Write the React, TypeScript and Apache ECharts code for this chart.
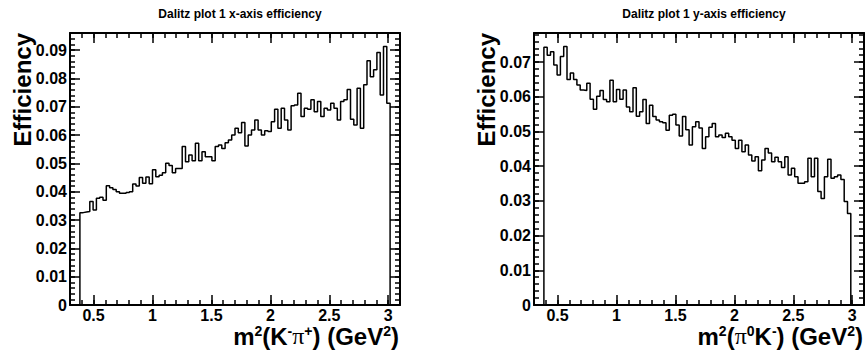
import React, { useEffect, useRef } from "react";
import * as echarts from "echarts";

// Histogram binning: 100 bins over [0.3, 3.1]; non-empty bins listed below
const BIN_LO = 0.3;
const BIN_W = 0.028;
const LEFT_FIRST_BIN = 3;
const RIGHT_FIRST_BIN = 3;

// Dalitz plot 1 x-axis efficiency, m^2(K- pi+)
const xAxisEff = [
  0.0326, 0.0328, 0.0330, 0.0365, 0.0335, 0.0377, 0.0380, 0.0370, 0.0421, 0.0414,
  0.0408, 0.0400, 0.0394, 0.0394, 0.0397, 0.0400, 0.0427, 0.0420, 0.0450, 0.0430,
  0.0452, 0.0428, 0.0477, 0.0453, 0.0458, 0.0467, 0.0500, 0.0492, 0.0467, 0.0482,
  0.0482, 0.0559, 0.0506, 0.0529, 0.0509, 0.0571, 0.0509, 0.0541, 0.0523, 0.0523,
  0.0509, 0.0559, 0.0565, 0.0552, 0.0573, 0.0582, 0.0600, 0.0624, 0.0608, 0.0644,
  0.0561, 0.0600, 0.0618, 0.0653, 0.0618, 0.0600, 0.0615, 0.0612, 0.0647, 0.0691,
  0.0624, 0.0694, 0.0653, 0.0618, 0.0703, 0.0706, 0.0747, 0.0665, 0.0694, 0.0691,
  0.0724, 0.0682, 0.0718, 0.0665, 0.0694, 0.0688, 0.0712, 0.0694, 0.0653, 0.0718,
  0.0724, 0.0761, 0.0656, 0.0635, 0.0765, 0.0624, 0.0777, 0.0862, 0.0806, 0.0830,
  0.0891, 0.0741, 0.0912, 0.0712,
];

// Dalitz plot 1 y-axis efficiency, m^2(pi0 K-)
const yAxisEff = [
  0.0743, 0.0720, 0.0730, 0.0692, 0.0663, 0.0716, 0.0745, 0.0650, 0.0669, 0.0650,
  0.0634, 0.0620, 0.0618, 0.0639, 0.0593, 0.0564, 0.0602, 0.0618, 0.0592, 0.0586,
  0.0648, 0.0586, 0.0621, 0.0593, 0.0620, 0.0571, 0.0557, 0.0626, 0.0544, 0.0557,
  0.0592, 0.0523, 0.0576, 0.0543, 0.0533, 0.0528, 0.0525, 0.0504, 0.0547, 0.0550,
  0.0519, 0.0487, 0.0543, 0.0505, 0.0461, 0.0514, 0.0528, 0.0510, 0.0451, 0.0485,
  0.0512, 0.0523, 0.0485, 0.0490, 0.0483, 0.0495, 0.0485, 0.0475, 0.0451, 0.0475,
  0.0442, 0.0461, 0.0432, 0.0415, 0.0427, 0.0387, 0.0418, 0.0451, 0.0438, 0.0413,
  0.0426, 0.0413, 0.0396, 0.0427, 0.0375, 0.0394, 0.0370, 0.0351, 0.0351, 0.0355,
  0.0423, 0.0370, 0.0423, 0.0327, 0.0307, 0.0370, 0.0420, 0.0365, 0.0370, 0.0375,
  0.0362, 0.0298, 0.0264,
];

const X_MIN = 0.3;
const X_MAX = 3.1;
const X_MAJOR = [0.5, 1, 1.5, 2, 2.5, 3];
const LEFT_Y_MAX = 0.096;
const RIGHT_Y_MAX = 0.0784;
const LEFT_Y_MAJOR = [0, 0.01, 0.02, 0.03, 0.04, 0.05, 0.06, 0.07, 0.08, 0.09];
const RIGHT_Y_MAJOR = [0, 0.01, 0.02, 0.03, 0.04, 0.05, 0.06, 0.07];

const TITLES = ["Dalitz plot 1 x-axis efficiency", "Dalitz plot 1 y-axis efficiency"];
const Y_TITLE = "Efficiency";
const X_TITLES = [
  "{a|m}{s|2}{a|(K}{s|-}{p|π}{s|+}{a|) (GeV}{s|2}{a|)}",
  "{a|m}{s|2}{a|(}{p|π}{s|0}{a|K}{s|-}{a|) (GeV}{s|2}{a|)}",
];

const FONT = "Liberation Sans";

function range(lo: number, hi: number, step: number) {
  const out: number[] = [];
  const n = Math.round((hi - lo) / step);
  for (let i = 0; i <= n; i++) out.push(Math.round((lo + i * step) * 100000) / 100000);
  return out.filter((v) => v <= hi + 1e-9);
}

function stepPoints(vals: number[], firstBin: number) {
  const pts: number[][] = [];
  const start = BIN_LO + firstBin * BIN_W;
  pts.push([start, 0]);
  vals.forEach((v, i) => {
    const a = BIN_LO + (firstBin + i) * BIN_W;
    pts.push([a, v]);
    pts.push([a + BIN_W, v]);
  });
  pts.push([BIN_LO + (firstBin + vals.length) * BIN_W, 0]);
  return pts;
}

const labelStyle = {
  fontFamily: FONT,
  fontWeight: "bold",
  fontSize: 16,
  color: "#000",
};

function makeX(g: number) {
  const base = {
    type: "value",
    gridIndex: g,
    min: X_MIN,
    max: X_MAX,
    splitLine: { show: false },
    axisLine: { show: false, onZero: false },
    axisLabel: { show: false },
    axisTick: { show: false },
  };
  const minor = range(X_MIN, X_MAX, 0.1);
  const major = (pos: string, labels: boolean) => ({
    ...base,
    position: pos,
    axisLine: { show: true, onZero: false, lineStyle: { color: "#000", width: 2 } },
    axisTick: {
      show: true,
      inside: true,
      length: 10,
      customValues: X_MAJOR,
      lineStyle: { color: "#000", width: 1.5 },
    },
    axisLabel: labels
      ? {
          show: true,
          customValues: X_MAJOR,
          margin: 2,
          formatter: (v: number) => String(v),
          ...labelStyle,
        }
      : { show: false },
  });
  const min = (pos: string) => ({
    ...base,
    position: pos,
    axisTick: {
      show: true,
      inside: true,
      length: 5,
      customValues: minor,
      lineStyle: { color: "#000", width: 1.5 },
    },
  });
  return [major("bottom", true), min("bottom"), major("top", false), min("top")];
}

function makeY(g: number, ymax: number, majorVals: number[]) {
  const base = {
    type: "value",
    gridIndex: g,
    min: 0,
    max: ymax,
    splitLine: { show: false },
    axisLine: { show: false, onZero: false },
    axisLabel: { show: false },
    axisTick: { show: false },
  };
  const minor = range(0, ymax, 0.002);
  const major = (pos: string, labels: boolean) => ({
    ...base,
    position: pos,
    axisLine: { show: true, onZero: false, lineStyle: { color: "#000", width: 2 } },
    axisTick: {
      show: true,
      inside: true,
      length: 10,
      customValues: majorVals,
      lineStyle: { color: "#000", width: 1.5 },
    },
    axisLabel: labels
      ? {
          show: true,
          customValues: majorVals,
          margin: 3,
          formatter: (v: number) => (v === 0 ? "0" : v.toFixed(2)),
          ...labelStyle,
        }
      : { show: false },
  });
  const min = (pos: string) => ({
    ...base,
    position: pos,
    axisTick: {
      show: true,
      inside: true,
      length: 5,
      customValues: minor,
      lineStyle: { color: "#000", width: 1.5 },
    },
  });
  return [major("left", true), min("left"), major("right", false), min("right")];
}

const rich = {
  a: { fontFamily: FONT, fontWeight: "bold", fontSize: 24, fill: "#000", verticalAlign: "bottom" },
  p: { fontFamily: "Liberation Serif", fontWeight: "normal", fontSize: 24, fill: "#000", verticalAlign: "bottom" },
  s: { fontFamily: FONT, fontWeight: "bold", fontSize: 14, fill: "#000", verticalAlign: "top" },
};

export default function App() {
  const ref = useRef<HTMLDivElement>(null);
  useEffect(() => {
    if (!ref.current) return;
    const chart = echarts.init(ref.current, undefined, { renderer: "svg" });
    const gridLefts = [70, 534];
    const graphic: any[] = [];
    [0, 1].forEach((g) => {
      const left = gridLefts[g];
      graphic.push({
        type: "text",
        x: left + 170,
        y: 14,
        style: {
          text: TITLES[g],
          font: `bold 12px "${FONT}"`,
          fill: "#000",
          align: "center",
          verticalAlign: "middle",
        },
      });
      graphic.push({
        type: "text",
        x: left - 48,
        y: 33,
        rotation: Math.PI / 2,
        style: {
          text: Y_TITLE,
          font: `bold 24px "${FONT}"`,
          fill: "#000",
          align: "right",
          verticalAlign: "middle",
        },
      });
      graphic.push({
        type: "text",
        x: left + 329,
        y: 348,
        style: {
          text: X_TITLES[g],
          rich,
          fill: "#000",
          align: "right",
          verticalAlign: "bottom",
        },
      });
    });

    const option: any = {
      animation: false,
      backgroundColor: "#fff",
      grid: [
        { left: 70, top: 33, width: 330, height: 272 },
        { left: 534, top: 33, width: 330, height: 272 },
      ],
      xAxis: [...makeX(0), ...makeX(1)],
      yAxis: [...makeY(0, LEFT_Y_MAX, LEFT_Y_MAJOR), ...makeY(1, RIGHT_Y_MAX, RIGHT_Y_MAJOR)],
      series: [
        {
          type: "line",
          xAxisIndex: 0,
          yAxisIndex: 0,
          data: stepPoints(xAxisEff, LEFT_FIRST_BIN),
          showSymbol: false,
          symbol: "none",
          lineStyle: { color: "#000", width: 1.5 },
        },
        {
          type: "line",
          xAxisIndex: 4,
          yAxisIndex: 4,
          data: stepPoints(yAxisEff, RIGHT_FIRST_BIN),
          showSymbol: false,
          symbol: "none",
          lineStyle: { color: "#000", width: 1.5 },
        },
      ],
      graphic,
    };
    chart.setOption(option);
    return () => chart.dispose();
  }, []);
  return (
    <div
      ref={ref}
      style={{ position: "fixed", left: 0, top: 0, width: 868, height: 360, background: "#fff" }}
    />
  );
}
